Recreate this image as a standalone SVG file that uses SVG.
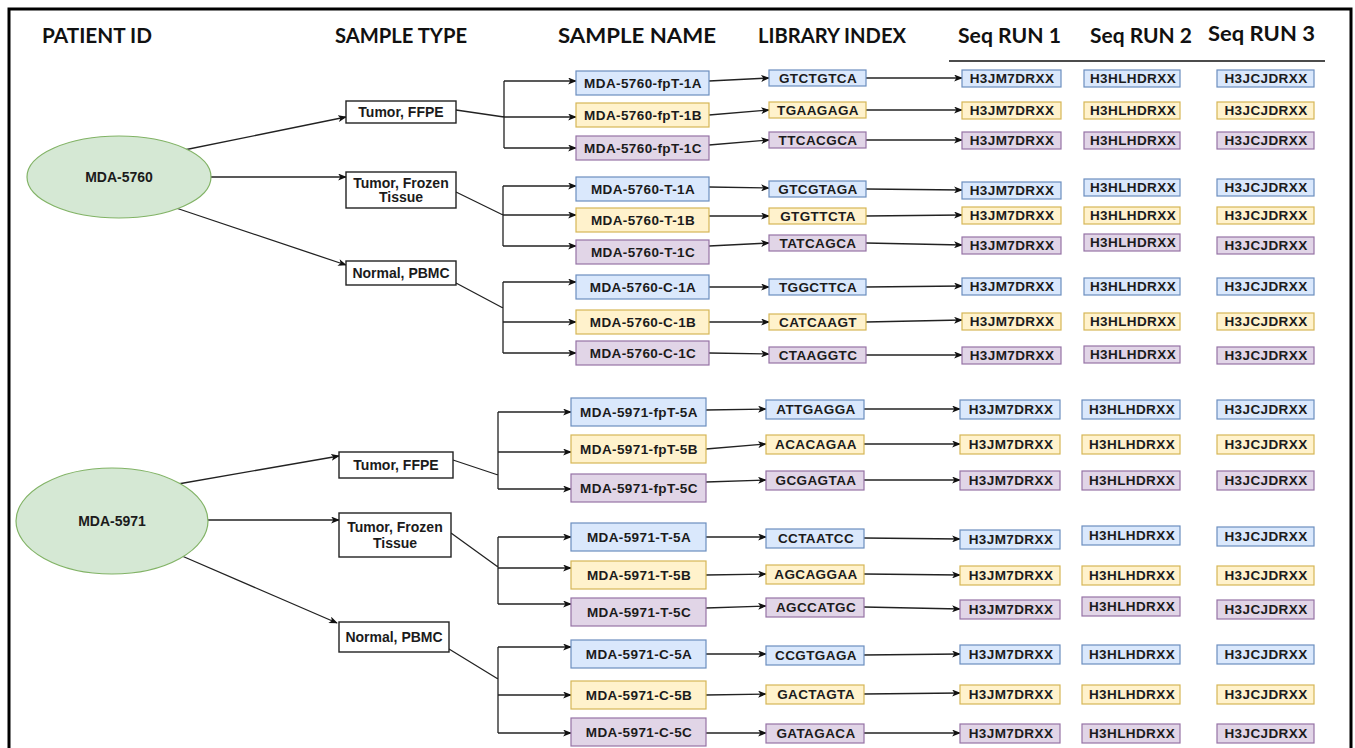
<svg xmlns="http://www.w3.org/2000/svg" width="1355" height="748" viewBox="0 0 1355 748">
<defs>
<marker id="arr" viewBox="0 0 10 8" refX="9" refY="4" markerWidth="9" markerHeight="7" markerUnits="userSpaceOnUse" orient="auto">
<path d="M0,0 L10,4 L0,8 L2.5,4 z" fill="#111"/>
</marker>
<style>
.hd{font-family:Lato,"Liberation Sans",sans-serif;font-weight:700;font-size:20px;fill:#111}
.t{font-family:"Liberation Sans",Arial,sans-serif;font-weight:700;font-size:14px;fill:#1b1b1b;text-anchor:middle}
.tl{font-family:"Liberation Sans",Arial,sans-serif;font-weight:700;font-size:13.5px;letter-spacing:0.4px;fill:#1b1b1b;text-anchor:middle}
.pt{fill:#d5e8d4;stroke:#82b366;stroke-width:1.2}
.ty{fill:#fff;stroke:#222;stroke-width:1.4}
.b{fill:#dae8fc;stroke:#6c8ebf;stroke-width:1.2}
.y{fill:#fff2cc;stroke:#d6b656;stroke-width:1.2}
.p{fill:#e1d5e7;stroke:#9673a6;stroke-width:1.2}
.c path,.c line{fill:none;stroke:#222;stroke-width:1.3}
.a{marker-end:url(#arr)}
</style>
</defs>
<rect width="1355" height="748" fill="#fff"/>
<path d="M9,748 V9 H1351 V748" fill="none" stroke="#000" stroke-width="3"/>

<!-- column headings -->
<g id="headings">
<text class="hd" x="42" y="43" textLength="110" lengthAdjust="spacingAndGlyphs">PATIENT ID</text>
<text class="hd" x="335" y="43" textLength="132" lengthAdjust="spacingAndGlyphs">SAMPLE TYPE</text>
<text class="hd" x="558" y="43" textLength="158" lengthAdjust="spacingAndGlyphs">SAMPLE NAME</text>
<text class="hd" x="758" y="43" textLength="148" lengthAdjust="spacingAndGlyphs">LIBRARY INDEX</text>
<text class="hd" x="958" y="43" textLength="103" lengthAdjust="spacingAndGlyphs">Seq RUN 1</text>
<text class="hd" x="1090" y="43" textLength="102" lengthAdjust="spacingAndGlyphs">Seq RUN 2</text>
<text class="hd" x="1208" y="41" textLength="107" lengthAdjust="spacingAndGlyphs">Seq RUN 3</text>
<line x1="949" y1="61" x2="1325" y2="61" stroke="#111" stroke-width="1.5"/>
</g>

<!-- connectors -->
<g id="connectors" class="c">
<!-- MDA-5760 -->
<line class="a" x1="184" y1="150" x2="346" y2="117"/>
<line class="a" x1="208" y1="177" x2="346" y2="177"/>
<line class="a" x1="176" y1="208" x2="346" y2="265"/>
<path d="M456,110 L504,117 M504,81 V148"/>
<line class="a" x1="504" y1="81" x2="576" y2="81"/>
<line class="a" x1="504" y1="117" x2="576" y2="117"/>
<line class="a" x1="504" y1="148" x2="576" y2="148"/>
<path d="M456,192 L503,215 M503,186 V246"/>
<line class="a" x1="503" y1="186" x2="576" y2="186"/>
<line class="a" x1="503" y1="215" x2="576" y2="215"/>
<line class="a" x1="503" y1="246" x2="576" y2="246"/>
<path d="M456,283 L503,308 M503,282 V353"/>
<line class="a" x1="503" y1="282" x2="576" y2="282"/>
<line class="a" x1="503" y1="322" x2="576" y2="322"/>
<line class="a" x1="503" y1="353" x2="576" y2="353"/>
<line class="a" x1="709" y1="81" x2="769" y2="78"/>
<line class="a" x1="709" y1="115" x2="769" y2="110"/>
<line class="a" x1="709" y1="145" x2="769" y2="140"/>
<line class="a" x1="709" y1="187" x2="769" y2="188"/>
<line class="a" x1="709" y1="216" x2="769" y2="216"/>
<line class="a" x1="709" y1="246" x2="769" y2="243"/>
<line class="a" x1="709" y1="287" x2="769" y2="287"/>
<line class="a" x1="709" y1="322" x2="769" y2="322"/>
<line class="a" x1="709" y1="353" x2="769" y2="354"/>
<line class="a" x1="866" y1="78" x2="962" y2="78"/>
<line class="a" x1="866" y1="110" x2="962" y2="110"/>
<line class="a" x1="866" y1="140" x2="962" y2="140"/>
<line class="a" x1="866" y1="189" x2="962" y2="190"/>
<line class="a" x1="866" y1="216" x2="962" y2="215"/>
<line class="a" x1="866" y1="243" x2="962" y2="245"/>
<line class="a" x1="866" y1="287" x2="962" y2="286"/>
<line class="a" x1="866" y1="322" x2="962" y2="320"/>
<line class="a" x1="866" y1="355" x2="962" y2="355"/>
<!-- MDA-5971 -->
<line class="a" x1="178" y1="484" x2="339" y2="456"/>
<line class="a" x1="206" y1="520" x2="339" y2="520"/>
<line class="a" x1="182" y1="556" x2="337" y2="623"/>
<path d="M453,460 L498,475 M498,412 V489"/>
<line class="a" x1="498" y1="412" x2="571" y2="412"/>
<line class="a" x1="498" y1="452" x2="571" y2="452"/>
<line class="a" x1="498" y1="489" x2="571" y2="489"/>
<path d="M451,533 L498,567 M498,537 V604"/>
<line class="a" x1="498" y1="537" x2="571" y2="537"/>
<line class="a" x1="498" y1="568" x2="571" y2="568"/>
<line class="a" x1="498" y1="604" x2="571" y2="604"/>
<path d="M449,649 L498,679 M498,647 V733"/>
<line class="a" x1="498" y1="647" x2="571" y2="647"/>
<line class="a" x1="498" y1="695" x2="571" y2="695"/>
<line class="a" x1="498" y1="733" x2="571" y2="733"/>
<line class="a" x1="706" y1="410" x2="766" y2="409"/>
<line class="a" x1="706" y1="449" x2="766" y2="444"/>
<line class="a" x1="706" y1="482" x2="766" y2="480"/>
<line class="a" x1="706" y1="537" x2="766" y2="537"/>
<line class="a" x1="706" y1="575" x2="766" y2="574"/>
<line class="a" x1="706" y1="608" x2="766" y2="606"/>
<line class="a" x1="706" y1="654" x2="766" y2="654"/>
<line class="a" x1="706" y1="695" x2="766" y2="694"/>
<line class="a" x1="706" y1="733" x2="766" y2="733"/>
<line class="a" x1="864" y1="409" x2="960" y2="409"/>
<line class="a" x1="864" y1="444" x2="960" y2="444"/>
<line class="a" x1="864" y1="480" x2="960" y2="480"/>
<line class="a" x1="864" y1="538" x2="960" y2="539"/>
<line class="a" x1="864" y1="574" x2="960" y2="575"/>
<line class="a" x1="864" y1="607" x2="960" y2="609"/>
<line class="a" x1="864" y1="655" x2="960" y2="654"/>
<line class="a" x1="864" y1="694" x2="960" y2="693"/>
<line class="a" x1="864" y1="733" x2="960" y2="733"/>
</g>

<!-- patients -->
<g id="patient-5760"><ellipse class="pt" cx="119" cy="177" rx="92" ry="41"/><text class="t" x="119" y="182">MDA-5760</text></g>
<g id="patient-5971"><ellipse class="pt" cx="112" cy="521" rx="96" ry="53"/><text class="t" x="112" y="526">MDA-5971</text></g>

<!-- sample types -->
<g id="type-5760-ffpe"><rect class="ty" x="346" y="101" width="110" height="22"/><text class="t" x="401" y="117">Tumor, FFPE</text></g>
<g id="type-5760-frozen"><rect class="ty" x="346" y="172" width="110" height="36"/><text class="t" x="401" y="188">Tumor, Frozen</text><text class="t" x="401" y="202">Tissue</text></g>
<g id="type-5760-pbmc"><rect class="ty" x="346" y="261" width="110" height="24"/><text class="t" x="401" y="278">Normal, PBMC</text></g>
<g id="type-5971-ffpe"><rect class="ty" x="339" y="452" width="114" height="26"/><text class="t" x="396" y="470">Tumor, FFPE</text></g>
<g id="type-5971-frozen"><rect class="ty" x="339" y="513" width="112" height="44"/><text class="t" x="395" y="532">Tumor, Frozen</text><text class="t" x="395" y="548">Tissue</text></g>
<g id="type-5971-pbmc"><rect class="ty" x="339" y="622" width="110" height="30"/><text class="t" x="394" y="642">Normal, PBMC</text></g>

<!-- sample names -->
<g id="s-5760-fpT-1A"><rect class="b" x="576" y="71" width="133" height="24"/><text class="tl" x="643" y="88">MDA-5760-fpT-1A</text></g>
<g id="s-5760-fpT-1B"><rect class="y" x="576" y="103" width="133" height="24"/><text class="tl" x="643" y="120">MDA-5760-fpT-1B</text></g>
<g id="s-5760-fpT-1C"><rect class="p" x="576" y="136" width="133" height="24"/><text class="tl" x="643" y="153">MDA-5760-fpT-1C</text></g>
<g id="s-5760-T-1A"><rect class="b" x="576" y="177" width="133" height="24"/><text class="tl" x="643" y="194">MDA-5760-T-1A</text></g>
<g id="s-5760-T-1B"><rect class="y" x="576" y="208" width="133" height="24"/><text class="tl" x="643" y="225">MDA-5760-T-1B</text></g>
<g id="s-5760-T-1C"><rect class="p" x="576" y="240" width="133" height="24"/><text class="tl" x="643" y="257">MDA-5760-T-1C</text></g>
<g id="s-5760-C-1A"><rect class="b" x="576" y="275" width="133" height="24"/><text class="tl" x="643" y="292">MDA-5760-C-1A</text></g>
<g id="s-5760-C-1B"><rect class="y" x="576" y="310" width="133" height="24"/><text class="tl" x="643" y="327">MDA-5760-C-1B</text></g>
<g id="s-5760-C-1C"><rect class="p" x="576" y="341" width="133" height="24"/><text class="tl" x="643" y="358">MDA-5760-C-1C</text></g>
<g id="s-5971-fpT-5A"><rect class="b" x="571" y="398" width="135" height="28"/><text class="tl" x="639" y="417">MDA-5971-fpT-5A</text></g>
<g id="s-5971-fpT-5B"><rect class="y" x="571" y="435" width="135" height="28"/><text class="tl" x="639" y="454">MDA-5971-fpT-5B</text></g>
<g id="s-5971-fpT-5C"><rect class="p" x="571" y="474" width="135" height="28"/><text class="tl" x="639" y="493">MDA-5971-fpT-5C</text></g>
<g id="s-5971-T-5A"><rect class="b" x="571" y="523" width="135" height="28"/><text class="tl" x="639" y="542">MDA-5971-T-5A</text></g>
<g id="s-5971-T-5B"><rect class="y" x="571" y="561" width="135" height="28"/><text class="tl" x="639" y="580">MDA-5971-T-5B</text></g>
<g id="s-5971-T-5C"><rect class="p" x="571" y="598" width="135" height="28"/><text class="tl" x="639" y="617">MDA-5971-T-5C</text></g>
<g id="s-5971-C-5A"><rect class="b" x="571" y="640" width="135" height="28"/><text class="tl" x="639" y="659">MDA-5971-C-5A</text></g>
<g id="s-5971-C-5B"><rect class="y" x="571" y="681" width="135" height="28"/><text class="tl" x="639" y="700">MDA-5971-C-5B</text></g>
<g id="s-5971-C-5C"><rect class="p" x="571" y="718" width="135" height="28"/><text class="tl" x="639" y="737">MDA-5971-C-5C</text></g>

<!-- library indexes -->
<g id="lib-1"><rect class="b" x="769" y="70" width="97" height="16"/><text class="tl" x="818" y="83">GTCTGTCA</text></g>
<g id="lib-2"><rect class="y" x="769" y="102" width="97" height="16"/><text class="tl" x="818" y="115">TGAAGAGA</text></g>
<g id="lib-3"><rect class="p" x="769" y="132" width="97" height="16"/><text class="tl" x="818" y="145">TTCACGCA</text></g>
<g id="lib-4"><rect class="b" x="769" y="181" width="97" height="16"/><text class="tl" x="818" y="194">GTCGTAGA</text></g>
<g id="lib-5"><rect class="y" x="769" y="208" width="97" height="16"/><text class="tl" x="818" y="221">GTGTTCTA</text></g>
<g id="lib-6"><rect class="p" x="769" y="235" width="97" height="16"/><text class="tl" x="818" y="248">TATCAGCA</text></g>
<g id="lib-7"><rect class="b" x="769" y="279" width="97" height="16"/><text class="tl" x="818" y="292">TGGCTTCA</text></g>
<g id="lib-8"><rect class="y" x="769" y="314" width="97" height="16"/><text class="tl" x="818" y="327">CATCAAGT</text></g>
<g id="lib-9"><rect class="p" x="769" y="347" width="97" height="16"/><text class="tl" x="818" y="360">CTAAGGTC</text></g>
<g id="lib-10"><rect class="b" x="766" y="400" width="98" height="19"/><text class="tl" x="816" y="414">ATTGAGGA</text></g>
<g id="lib-11"><rect class="y" x="766" y="435" width="98" height="19"/><text class="tl" x="816" y="449">ACACAGAA</text></g>
<g id="lib-12"><rect class="p" x="766" y="471" width="98" height="19"/><text class="tl" x="816" y="485">GCGAGTAA</text></g>
<g id="lib-13"><rect class="b" x="766" y="529" width="98" height="19"/><text class="tl" x="816" y="543">CCTAATCC</text></g>
<g id="lib-14"><rect class="y" x="766" y="565" width="98" height="19"/><text class="tl" x="816" y="579">AGCAGGAA</text></g>
<g id="lib-15"><rect class="p" x="766" y="598" width="98" height="19"/><text class="tl" x="816" y="612">AGCCATGC</text></g>
<g id="lib-16"><rect class="b" x="766" y="646" width="98" height="19"/><text class="tl" x="816" y="660">CCGTGAGA</text></g>
<g id="lib-17"><rect class="y" x="766" y="685" width="98" height="19"/><text class="tl" x="816" y="699">GACTAGTA</text></g>
<g id="lib-18"><rect class="p" x="766" y="724" width="98" height="19"/><text class="tl" x="816" y="738">GATAGACA</text></g>

<!-- sequencing runs -->
<g id="run1-1"><rect class="b" x="962" y="70" width="99" height="17"/><text class="tl" x="1012" y="83">H3JM7DRXX</text></g>
<g id="run1-2"><rect class="y" x="962" y="102" width="99" height="17"/><text class="tl" x="1012" y="115">H3JM7DRXX</text></g>
<g id="run1-3"><rect class="p" x="962" y="132" width="99" height="17"/><text class="tl" x="1012" y="145">H3JM7DRXX</text></g>
<g id="run1-4"><rect class="b" x="962" y="182" width="99" height="17"/><text class="tl" x="1012" y="195">H3JM7DRXX</text></g>
<g id="run1-5"><rect class="y" x="962" y="207" width="99" height="17"/><text class="tl" x="1012" y="220">H3JM7DRXX</text></g>
<g id="run1-6"><rect class="p" x="962" y="237" width="99" height="17"/><text class="tl" x="1012" y="250">H3JM7DRXX</text></g>
<g id="run1-7"><rect class="b" x="962" y="278" width="99" height="17"/><text class="tl" x="1012" y="291">H3JM7DRXX</text></g>
<g id="run1-8"><rect class="y" x="962" y="313" width="99" height="17"/><text class="tl" x="1012" y="326">H3JM7DRXX</text></g>
<g id="run1-9"><rect class="p" x="962" y="347" width="99" height="17"/><text class="tl" x="1012" y="360">H3JM7DRXX</text></g>
<g id="run1-10"><rect class="b" x="960" y="400" width="100" height="19"/><text class="tl" x="1011" y="414">H3JM7DRXX</text></g>
<g id="run1-11"><rect class="y" x="960" y="435" width="100" height="19"/><text class="tl" x="1011" y="449">H3JM7DRXX</text></g>
<g id="run1-12"><rect class="p" x="960" y="471" width="100" height="19"/><text class="tl" x="1011" y="485">H3JM7DRXX</text></g>
<g id="run1-13"><rect class="b" x="960" y="530" width="100" height="19"/><text class="tl" x="1011" y="544">H3JM7DRXX</text></g>
<g id="run1-14"><rect class="y" x="960" y="566" width="100" height="19"/><text class="tl" x="1011" y="580">H3JM7DRXX</text></g>
<g id="run1-15"><rect class="p" x="960" y="600" width="100" height="19"/><text class="tl" x="1011" y="614">H3JM7DRXX</text></g>
<g id="run1-16"><rect class="b" x="960" y="645" width="100" height="19"/><text class="tl" x="1011" y="659">H3JM7DRXX</text></g>
<g id="run1-17"><rect class="y" x="960" y="685" width="100" height="19"/><text class="tl" x="1011" y="699">H3JM7DRXX</text></g>
<g id="run1-18"><rect class="p" x="960" y="724" width="100" height="19"/><text class="tl" x="1011" y="738">H3JM7DRXX</text></g>

<g id="run2-1"><rect class="b" x="1084" y="70" width="96" height="17"/><text class="tl" x="1133" y="83">H3HLHDRXX</text></g>
<g id="run2-2"><rect class="y" x="1084" y="102" width="96" height="17"/><text class="tl" x="1133" y="115">H3HLHDRXX</text></g>
<g id="run2-3"><rect class="p" x="1084" y="132" width="96" height="17"/><text class="tl" x="1133" y="145">H3HLHDRXX</text></g>
<g id="run2-4"><rect class="b" x="1084" y="179" width="96" height="17"/><text class="tl" x="1133" y="192">H3HLHDRXX</text></g>
<g id="run2-5"><rect class="y" x="1084" y="207" width="96" height="17"/><text class="tl" x="1133" y="220">H3HLHDRXX</text></g>
<g id="run2-6"><rect class="p" x="1084" y="234" width="96" height="17"/><text class="tl" x="1133" y="247">H3HLHDRXX</text></g>
<g id="run2-7"><rect class="b" x="1084" y="278" width="96" height="17"/><text class="tl" x="1133" y="291">H3HLHDRXX</text></g>
<g id="run2-8"><rect class="y" x="1084" y="313" width="96" height="17"/><text class="tl" x="1133" y="326">H3HLHDRXX</text></g>
<g id="run2-9"><rect class="p" x="1084" y="346" width="96" height="17"/><text class="tl" x="1133" y="359">H3HLHDRXX</text></g>
<g id="run2-10"><rect class="b" x="1082" y="400" width="98" height="19"/><text class="tl" x="1132" y="414">H3HLHDRXX</text></g>
<g id="run2-11"><rect class="y" x="1082" y="435" width="98" height="19"/><text class="tl" x="1132" y="449">H3HLHDRXX</text></g>
<g id="run2-12"><rect class="p" x="1082" y="471" width="98" height="19"/><text class="tl" x="1132" y="485">H3HLHDRXX</text></g>
<g id="run2-13"><rect class="b" x="1082" y="526" width="98" height="19"/><text class="tl" x="1132" y="540">H3HLHDRXX</text></g>
<g id="run2-14"><rect class="y" x="1082" y="566" width="98" height="19"/><text class="tl" x="1132" y="580">H3HLHDRXX</text></g>
<g id="run2-15"><rect class="p" x="1082" y="597" width="98" height="19"/><text class="tl" x="1132" y="611">H3HLHDRXX</text></g>
<g id="run2-16"><rect class="b" x="1082" y="645" width="98" height="19"/><text class="tl" x="1132" y="659">H3HLHDRXX</text></g>
<g id="run2-17"><rect class="y" x="1082" y="685" width="98" height="19"/><text class="tl" x="1132" y="699">H3HLHDRXX</text></g>
<g id="run2-18"><rect class="p" x="1082" y="724" width="98" height="19"/><text class="tl" x="1132" y="738">H3HLHDRXX</text></g>

<g id="run3-1"><rect class="b" x="1217" y="70" width="97" height="17"/><text class="tl" x="1266" y="83">H3JCJDRXX</text></g>
<g id="run3-2"><rect class="y" x="1217" y="102" width="97" height="17"/><text class="tl" x="1266" y="115">H3JCJDRXX</text></g>
<g id="run3-3"><rect class="p" x="1217" y="132" width="97" height="17"/><text class="tl" x="1266" y="145">H3JCJDRXX</text></g>
<g id="run3-4"><rect class="b" x="1217" y="179" width="97" height="17"/><text class="tl" x="1266" y="192">H3JCJDRXX</text></g>
<g id="run3-5"><rect class="y" x="1217" y="207" width="97" height="17"/><text class="tl" x="1266" y="220">H3JCJDRXX</text></g>
<g id="run3-6"><rect class="p" x="1217" y="237" width="97" height="17"/><text class="tl" x="1266" y="250">H3JCJDRXX</text></g>
<g id="run3-7"><rect class="b" x="1217" y="278" width="97" height="17"/><text class="tl" x="1266" y="291">H3JCJDRXX</text></g>
<g id="run3-8"><rect class="y" x="1217" y="313" width="97" height="17"/><text class="tl" x="1266" y="326">H3JCJDRXX</text></g>
<g id="run3-9"><rect class="p" x="1217" y="347" width="97" height="17"/><text class="tl" x="1266" y="360">H3JCJDRXX</text></g>
<g id="run3-10"><rect class="b" x="1217" y="400" width="97" height="19"/><text class="tl" x="1266" y="414">H3JCJDRXX</text></g>
<g id="run3-11"><rect class="y" x="1217" y="435" width="97" height="19"/><text class="tl" x="1266" y="449">H3JCJDRXX</text></g>
<g id="run3-12"><rect class="p" x="1217" y="471" width="97" height="19"/><text class="tl" x="1266" y="485">H3JCJDRXX</text></g>
<g id="run3-13"><rect class="b" x="1217" y="527" width="97" height="19"/><text class="tl" x="1266" y="541">H3JCJDRXX</text></g>
<g id="run3-14"><rect class="y" x="1217" y="566" width="97" height="19"/><text class="tl" x="1266" y="580">H3JCJDRXX</text></g>
<g id="run3-15"><rect class="p" x="1217" y="600" width="97" height="19"/><text class="tl" x="1266" y="614">H3JCJDRXX</text></g>
<g id="run3-16"><rect class="b" x="1217" y="645" width="97" height="19"/><text class="tl" x="1266" y="659">H3JCJDRXX</text></g>
<g id="run3-17"><rect class="y" x="1217" y="685" width="97" height="19"/><text class="tl" x="1266" y="699">H3JCJDRXX</text></g>
<g id="run3-18"><rect class="p" x="1217" y="724" width="97" height="19"/><text class="tl" x="1266" y="738">H3JCJDRXX</text></g>
</svg>
